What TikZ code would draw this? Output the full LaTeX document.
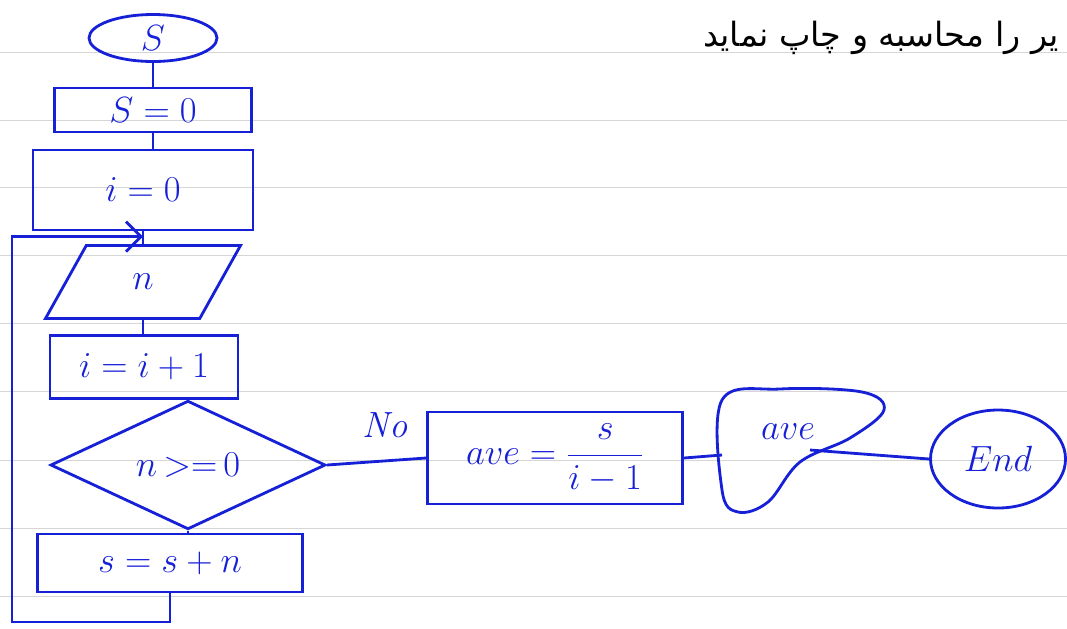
\documentclass[tikz,border=0pt]{standalone}
\usepackage{fontspec}
\newfontfamily\farsi[Script=Arabic]{DejaVu Sans}
\TeXXeTstate=1
\usetikzlibrary{arrows.meta, shapes.geometric}
\definecolor{ink}{RGB}{22,32,215}
\definecolor{papergray}{RGB}{214,214,214}

\begin{document}
\begin{tikzpicture}[x=0.2mm, y=-0.2mm, ultra thick,
    flow/.style={draw=ink, text=ink, inner sep=0pt, font=\huge},
    box/.style={flow, rectangle},
    term/.style={flow, ellipse},
    io/.style={flow, trapezium, trapezium left angle=64, trapezium right angle=116, trapezium stretches=true},
    test/.style={flow, diamond},
    link/.style={draw=ink},
    paperline/.style={draw=papergray, thin}]
    \useasboundingbox (0,0) rectangle (1067,628);
    \foreach \y in {52,120,187,255,323,391,460,528,596}
        \draw[paperline] (0,\y) -- (1067,\y);
    \node[anchor=east, font=\fontsize{19}{22}\selectfont\farsi] (title) at (1066,38) {\beginR یر را محاسبه و چاپ نماید\endR};

    \node[term, minimum width=25.6mm, minimum height=9.4mm] (start) at (153,38) {$S$};
    \node[box, minimum width=39.4mm, minimum height=8.8mm] (szero) at (153,110) {$S=0$};
    \node[box, minimum width=44mm, minimum height=16mm] (izero) at (143,190) {$i=0$};
    \node[io, minimum width=39mm, minimum height=14.6mm] (inp) at (143,282) {$n$};
    \node[box, minimum width=37.6mm, minimum height=12.6mm] (inc) at (144,367) {$i=i+1$};
    \node[test, minimum width=55mm, minimum height=23.6mm] (check) at (188,465) {$n\,{>}{=}\,0$};
    \node[box, minimum width=53mm, minimum height=11.6mm] (sum) at (170,563) {$s=s+n$};
    \node[box, minimum width=51mm, minimum height=18.4mm] (avg) at (555,458) {$ave=\displaystyle\frac{s}{i-1}$};
    \node[term, minimum width=27mm, minimum height=19.6mm] (fin) at (998,459) {$End$};
    \node[text=ink, font=\huge] (no) at (385,425) {\textit{No}};

    \draw[link] plot[smooth cycle, tension=0.6] coordinates {(722,400) (722,490) (738,512) (768,502) (800,462) (850,438) (884,410) (862,392) (780,389)};
    \node[text=ink, font=\huge] (out) at (788,432) {$ave$};
    \coordinate (outw) at (722,455);
    \coordinate (oute) at (810,450);
    \coordinate (loopl) at (12,622);

    \draw[link] (start) -- (szero);
    \draw[link] (szero.south) -- (szero.south |- izero.north);
    \draw[link] (izero.south) -- (izero.south |- inp.north);
    \draw[link] (inp.south) -- (inp.south |- inc.north);
    \draw[link] (check.north |- inc.south) -- (check.north);
    \draw[link] (check.south) -- (check.south |- sum.north);
    \draw[link, -{Straight Barb[length=3mm]}] (sum.south) |- (loopl) |- ([yshift=1.5mm]inp.north);
    \draw[link] (check.east) -- (avg.west);
    \draw[link] (avg.east) -- (outw);
    \draw[link] (oute) -- (fin.west);
\end{tikzpicture}
\end{document}
